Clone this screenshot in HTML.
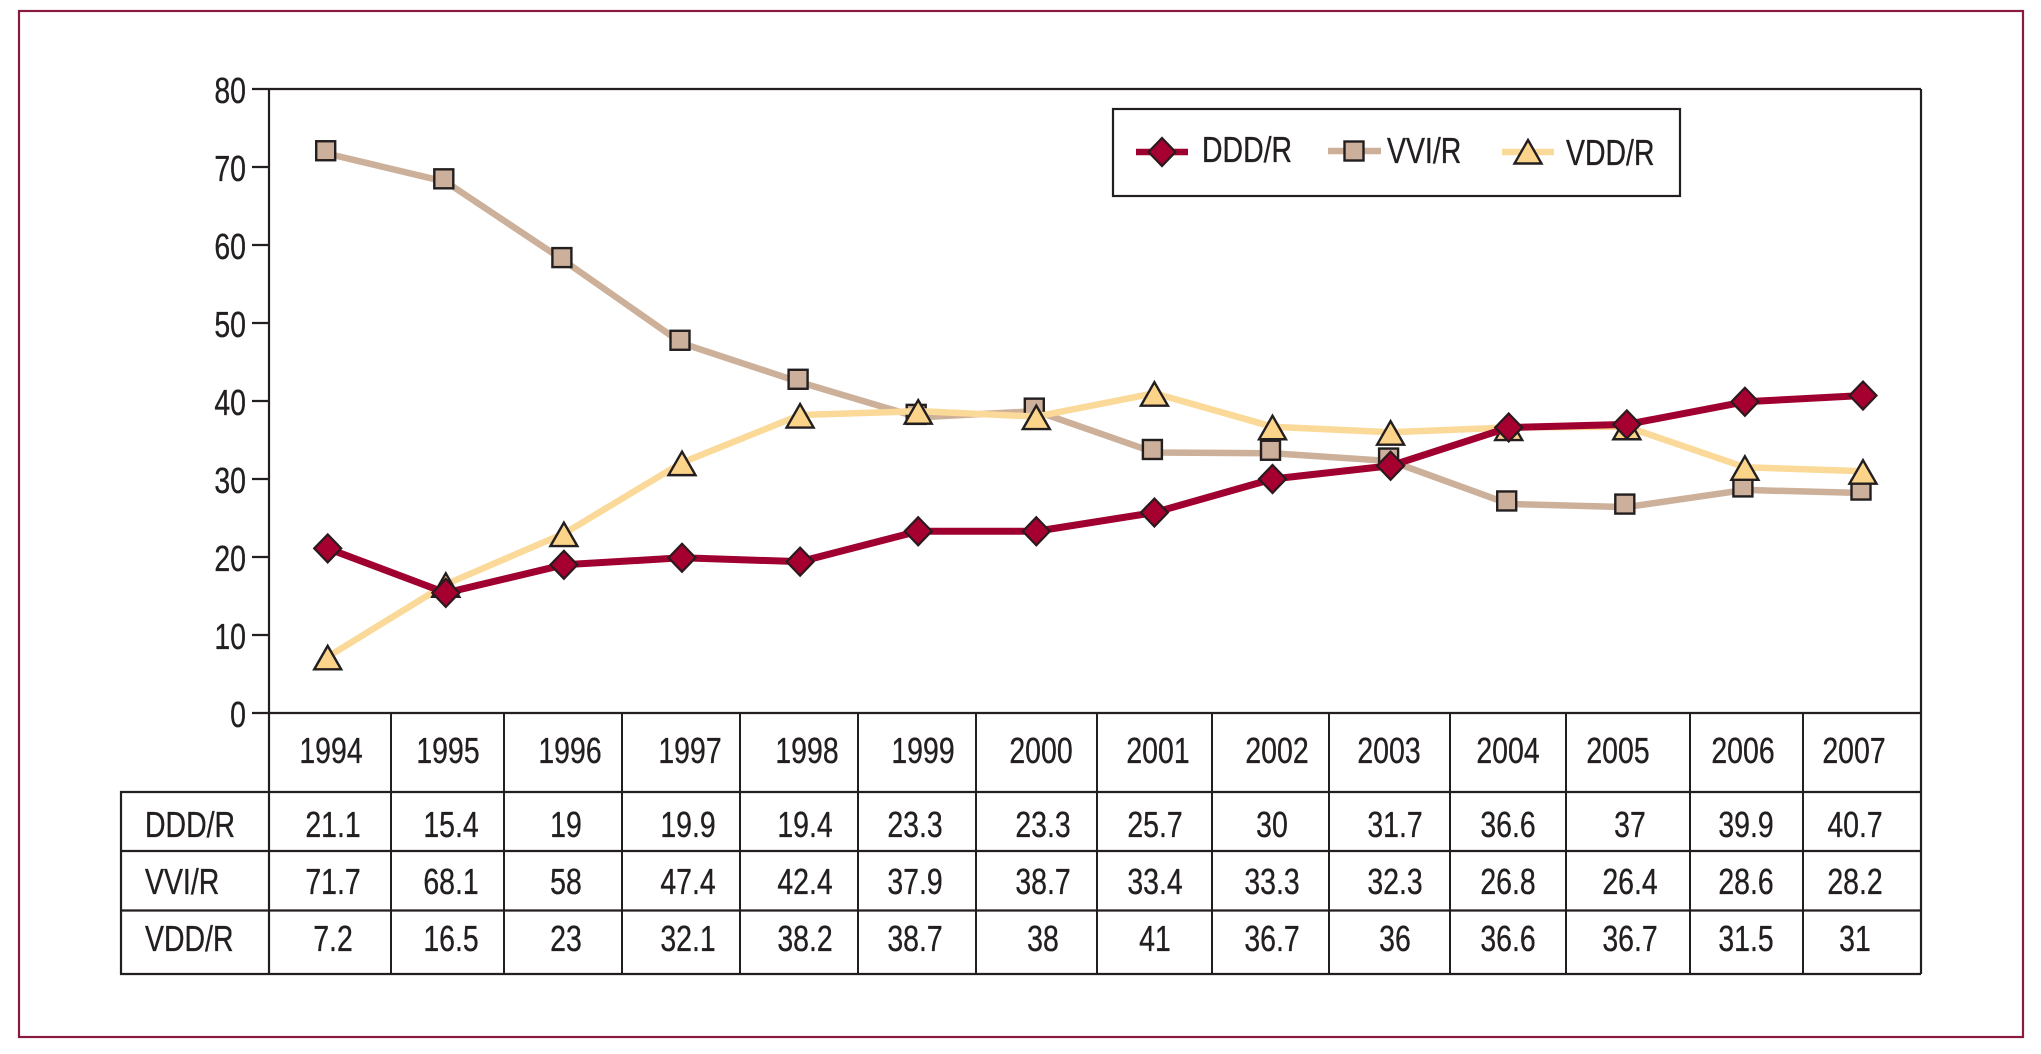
<!DOCTYPE html>
<html lang="en">
<head>
<meta charset="utf-8">
<title>Pacing mode trend chart 1994-2007</title>
<style>
  html, body { margin: 0; padding: 0; background: #fff; }
  body { width: 2041px; height: 1054px; overflow: hidden; }
  svg { display: block; }
  text { font-family: "Liberation Sans", Arial, sans-serif; font-size: 36px; fill: #231f20; stroke: #231f20; stroke-width: 0.35px; }
</style>
</head>
<body>
<svg id="chart" xmlns="http://www.w3.org/2000/svg" width="2041" height="1054" viewBox="0 0 2041 1054">
  <rect x="0" y="0" width="2041" height="1054" fill="#fff"/>
  <rect x="19" y="11" width="2004" height="1026" fill="none" stroke="#8b1a42" stroke-width="2.2"/>
  <g id="plot-frame" stroke="#231f20" stroke-width="2.2" fill="none">
    <line x1="269" y1="89" x2="1921" y2="89"/>
    <line x1="269" y1="89" x2="269" y2="974"/>
    <line x1="1921" y1="89" x2="1921" y2="974"/>
    <line x1="269" y1="713" x2="1921" y2="713"/>
  </g>
  <g id="y-ticks"></g>
  <g id="table"></g>
  <g id="series"></g>
  <g id="legend">
    <rect x="1113" y="109" width="567" height="87" fill="#fff" stroke="#231f20" stroke-width="2.2"/>
  </g>
</svg>
<script>
const years = ['1994','1995','1996','1997','1998','1999','2000','2001','2002','2003','2004','2005','2006','2007'];
const dddValues = [21.1,15.4,19,19.9,19.4,23.3,23.3,25.7,30,31.7,36.6,37,39.9,40.7];
const vviValues = [71.7,68.1,58,47.4,42.4,37.9,38.7,33.4,33.3,32.3,26.8,26.4,28.6,28.2];
const vddValues = [7.2,16.5,23,32.1,38.2,38.7,38,41,36.7,36,36.6,36.7,31.5,31];
const yTickValues = [0,10,20,30,40,50,60,70,80];
const seriesLabels = ['DDD/R','VVI/R','VDD/R'];

const NS = 'http://www.w3.org/2000/svg';
const GLYPH_SCALE = 0.79;

function xScale(i) { return 327.7 + i * (1863 - 327.7) / (years.length - 1); }
function yScale(v) { return 713 - v * (713 - 89) / 80; }

function make(tag, attrs, parent) {
  const el = document.createElementNS(NS, tag);
  for (const k in attrs) el.setAttribute(k, attrs[k]);
  parent.appendChild(el);
  return el;
}

function label(str, x, y, anchor, parent) {
  const t = make('text', { transform: 'translate(' + x + ' ' + y + ') scale(' + GLYPH_SCALE + ' 1)', 'text-anchor': anchor }, parent);
  t.textContent = str;
  return t;
}

function diamond(cx, cy, parent) {
  return make('polygon', {
    points: [cx, cy - 14, cx + 13.5, cy, cx, cy + 14, cx - 13.5, cy].join(' '),
    fill: '#a5002f', stroke: '#2a1a1e', 'stroke-width': 2.2
  }, parent);
}
function square(cx, cy, parent) {
  return make('rect', {
    x: cx - 9.5, y: cy - 9.5, width: 19, height: 19,
    fill: '#cdb09b', stroke: '#231f20', 'stroke-width': 2.4
  }, parent);
}
function triangle(cx, cy, parent) {
  return make('polygon', {
    points: [cx, cy - 11, cx + 13.5, cy + 12.5, cx - 13.5, cy + 12.5].join(' '),
    fill: '#fbd48a', stroke: '#231f20', 'stroke-width': 2.4
  }, parent);
}

/* y axis ticks */
const tickLayer = document.getElementById('y-ticks');
yTickValues.forEach(function (v) {
  const tick = make('line', { x1: 252, x2: 269, y1: yScale(v), y2: yScale(v), stroke: '#231f20', 'stroke-width': 2.2 }, tickLayer);
  
  
  const tl = label(String(v), 246, yScale(v) + 14, 'end', tickLayer);
  
  
});

/* data table */
const tableLayer = document.getElementById('table');
const columnEdges = [269,391,504,622,740,858,976,1097,1212,1329,1450,1566,1690,1803,1921];
const rowLines = [792,851,910.5,974];
const yearCenters = [331,448,570,690,807,923,1041,1158,1277,1389,1508,1618,1743,1854];
const valueCenters = [333,451,566,688,805,915,1043,1155,1272,1395,1508,1630,1746,1855];
const rowBaselines = [837,894,951];

columnEdges.slice(1, -1).forEach(function (x) {
  const l = make('line', { x1: x, x2: x, y1: 713, y2: 974, stroke: '#231f20', 'stroke-width': 2 }, tableLayer);
  
  
});
rowLines.forEach(function (y) {
  const l = make('line', { x1: 120, x2: 1921, y1: y, y2: y, stroke: '#231f20', 'stroke-width': 2.2 }, tableLayer);
  
  
});
const tableLeft = make('line', { x1: 121, x2: 121, y1: 791, y2: 975, stroke: '#231f20', 'stroke-width': 2.2 }, tableLayer);



years.forEach(function (yr, i) {
  const t = label(yr, yearCenters[i], 763, 'middle', tableLayer);
  
  
});
[dddValues, vviValues, vddValues].forEach(function (values, r) {
  const head = label(seriesLabels[r], 145, rowBaselines[r], 'start', tableLayer);
  
  
  values.forEach(function (v, i) {
    const c = label(String(v), valueCenters[i], rowBaselines[r], 'middle', tableLayer);
    
    
  });
});

/* series */
const seriesLayer = document.getElementById('series');
function drawSeries(values, color, width, marker, dx, dy, name) {
  const g = make('g', {}, seriesLayer);
  
  
  const pts = values.map(function (v, i) { return xScale(i) + ',' + yScale(v); }).join(' ');
  const line = make('polyline', { points: pts, fill: 'none', stroke: color, 'stroke-width': width, 'stroke-linejoin': 'round' }, g);
  
  
  values.forEach(function (v, i) {
    const m = marker(xScale(i) + dx, yScale(v) + dy, g);
    
    
  });
}
drawSeries(vviValues, '#ccb09a', 6.5, square, -2, -3, 'vvi-r');
drawSeries(vddValues, '#fbd998', 6.5, triangle, 0, 0, 'vdd-r');
drawSeries(dddValues, '#a00030', 7, diamond, 0, 0, 'ddd-r');

/* legend */
const legendLayer = document.getElementById('legend');
function legendEntry(text, x1, x2, ly, color, lw, marker, mx, my, tx, ty, name) {
  const g = make('g', {}, legendLayer);
  
  
  const sw = make('line', { x1: x1, x2: x2, y1: ly, y2: ly, stroke: color, 'stroke-width': lw }, g);
  
  
  const m = marker(mx, my, g);
  
  
  const t = label(text, tx, ty, 'start', g);
  
  
}
legendEntry(seriesLabels[0], 1136, 1188, 152, '#a00030', 6.5, diamond, 1162, 152, 1202, 162, 'legend-entry-ddd-r');
legendEntry(seriesLabels[1], 1328, 1381, 151, '#ccb09a', 6.5, square, 1354, 151, 1387, 163, 'legend-entry-vvi-r');
legendEntry(seriesLabels[2], 1502, 1554, 152, '#fbd998', 6.5, triangle, 1528, 151, 1566, 165, 'legend-entry-vdd-r');
</script>
</body>
</html>
